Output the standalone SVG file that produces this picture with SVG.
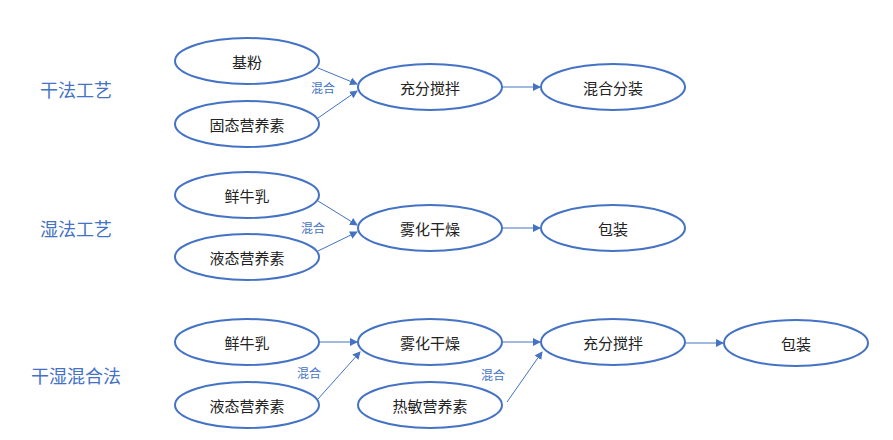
<svg xmlns="http://www.w3.org/2000/svg" width="893" height="440" viewBox="0 0 893 440">
<style>
.n ellipse{fill:#fff;stroke:#4472C4;stroke-width:2}
.n text{font-family:"Noto Sans CJK SC",sans-serif;font-size:15px;fill:#222;text-anchor:middle;dominant-baseline:central}
.t{font-family:"Noto Sans CJK SC",sans-serif;font-size:18px;fill:#4472C4;text-anchor:middle;dominant-baseline:central}
.m{font-family:"Noto Sans CJK SC",sans-serif;font-size:12px;fill:#4472C4;text-anchor:middle;dominant-baseline:central}
#c line{stroke:#4472C4;stroke-width:1;marker-end:url(#a)}
</style>
<defs><marker id="a" markerWidth="8" markerHeight="8" refX="7" refY="4" orient="auto" markerUnits="userSpaceOnUse"><path d="M0,0 L8,4 L0,8 z" fill="#4472C4"/></marker></defs>
<rect width="893" height="440" fill="#fff"/>
<text class="t" x="76" y="89">干法工艺</text>
<text class="t" x="76" y="228">湿法工艺</text>
<text class="t" x="76" y="375">干湿混合法</text>
<text class="m" x="323" y="87">混合</text>
<text class="m" x="313" y="227">混合</text>
<text class="m" x="309" y="372">混合</text>
<text class="m" x="493" y="374">混合</text>
<g id="c">
<line x1="318" y1="68" x2="357" y2="84"/>
<line x1="318" y1="118" x2="357" y2="91"/>
<line x1="502" y1="87" x2="540" y2="87"/>
<line x1="318" y1="201" x2="357" y2="225"/>
<line x1="318" y1="251" x2="357" y2="232"/>
<line x1="502" y1="228" x2="540" y2="228"/>
<line x1="319" y1="342" x2="357" y2="342"/>
<line x1="318" y1="399" x2="360" y2="352"/>
<line x1="502" y1="342" x2="540" y2="342"/>
<line x1="507" y1="402" x2="542" y2="352"/>
<line x1="686" y1="343" x2="723" y2="343"/>
</g>
<g id="n1" class="n"><ellipse cx="247" cy="61" rx="72" ry="23"/><text x="247" y="61">基粉</text></g>
<g id="n2" class="n"><ellipse cx="247" cy="124" rx="72" ry="23"/><text x="247" y="124">固态营养素</text></g>
<g id="n3" class="n"><ellipse cx="430" cy="87" rx="72" ry="23"/><text x="430" y="87">充分搅拌</text></g>
<g id="n4" class="n"><ellipse cx="613" cy="87" rx="72" ry="23"/><text x="613" y="87">混合分装</text></g>
<g id="n5" class="n"><ellipse cx="247" cy="195" rx="72" ry="23"/><text x="247" y="195">鲜牛乳</text></g>
<g id="n6" class="n"><ellipse cx="247" cy="257" rx="72" ry="23"/><text x="247" y="257">液态营养素</text></g>
<g id="n7" class="n"><ellipse cx="430" cy="228" rx="72" ry="23"/><text x="430" y="228">雾化干燥</text></g>
<g id="n8" class="n"><ellipse cx="613" cy="228" rx="72" ry="23"/><text x="613" y="228">包装</text></g>
<g id="n9" class="n"><ellipse cx="247" cy="342" rx="72" ry="23"/><text x="247" y="342">鲜牛乳</text></g>
<g id="n10" class="n"><ellipse cx="247" cy="405" rx="72" ry="23"/><text x="247" y="405">液态营养素</text></g>
<g id="n11" class="n"><ellipse cx="430" cy="342" rx="72" ry="23"/><text x="430" y="342">雾化干燥</text></g>
<g id="n12" class="n"><ellipse cx="430" cy="405" rx="72" ry="23"/><text x="430" y="405">热敏营养素</text></g>
<g id="n13" class="n"><ellipse cx="613" cy="342" rx="72" ry="23"/><text x="613" y="342">充分搅拌</text></g>
<g id="n14" class="n"><ellipse cx="796" cy="343" rx="72" ry="23"/><text x="796" y="343">包装</text></g>
</svg>
